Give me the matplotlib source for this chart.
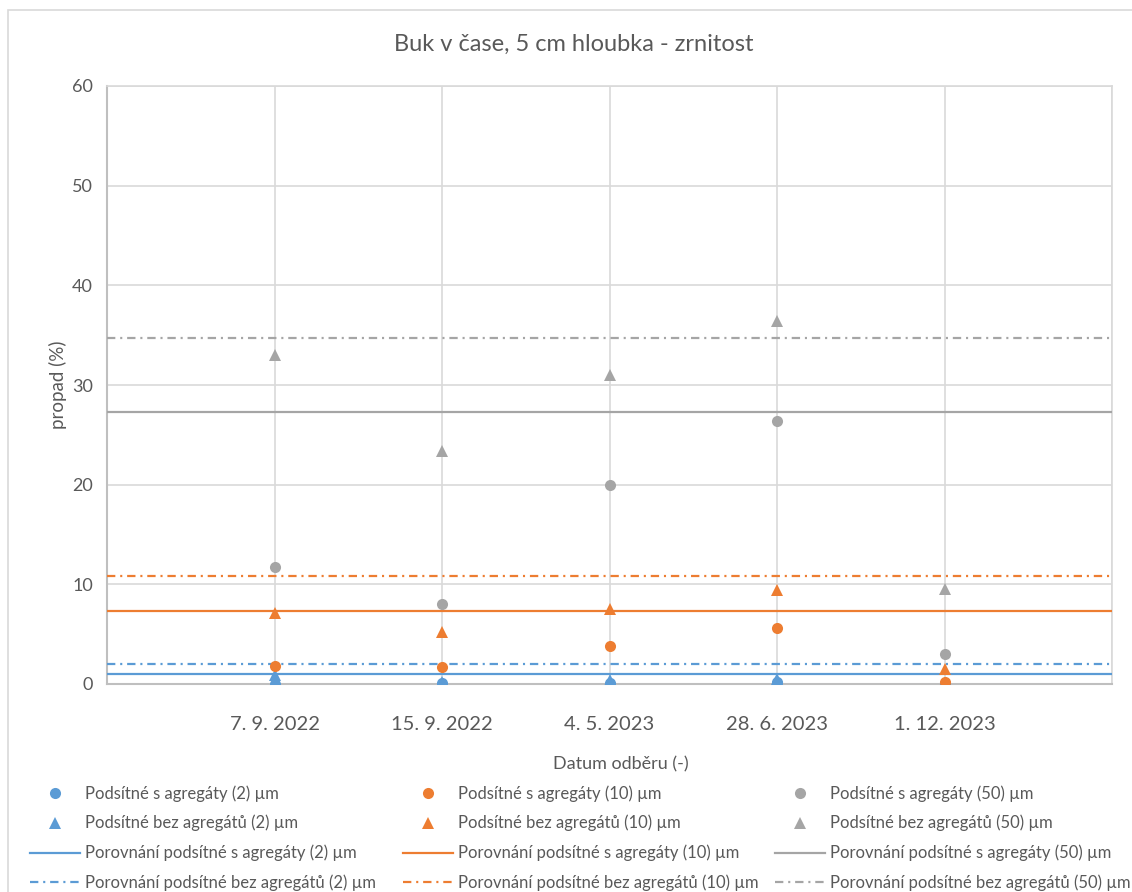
import matplotlib
matplotlib.use("Agg")
import matplotlib.pyplot as plt
from matplotlib.lines import Line2D
from matplotlib.patches import Rectangle

plt.rcParams['font.family'] = ['Lato', 'DejaVu Sans']
plt.rcParams['lines.scale_dashes'] = False

# data
dates = ['7. 9. 2022', '15. 9. 2022', '4. 5. 2023', '28. 6. 2023', '1. 12. 2023']
x_pos = [1, 2, 3, 4, 5]
s_agr_2 = [0.05, 0.1, 0.1, 0.25, 0.05]
bez_agr_2 = [0.9, 0.2, 0.4, 0.5, 0.0]
s_agr_10 = [1.8, 1.7, 3.8, 5.65, 0.2]
bez_agr_10 = [7.15, 5.2, 7.5, 9.4, 1.5]
s_agr_50 = [11.75, 8.0, 20.0, 26.4, 3.0]
bez_agr_50 = [33.0, 23.4, 31.0, 36.4, 9.5]
por_s_agr = [1.03, 7.3, 27.25]      # 2, 10, 50 um
por_bez_agr = [2.0, 10.8, 34.7]

sizes = ['2', '10', '50']
colors = ['#5B9BD5', '#ED7D31', '#A5A5A5']
text_col = '#595959'
grid_col = '#D9D9D9'
dashdot = (0, (6, 3.5, 1.5, 3.5))
ms = 8

fig = plt.figure(figsize=(11.32, 8.92), dpi=100)
fig.patches.append(Rectangle((8 / 1132, -0.1), 1.2, 1 - 10 / 892 + 0.1,
                             transform=fig.transFigure, fill=False,
                             edgecolor=grid_col, linewidth=1.2))

ax = fig.add_axes([107 / 1132, 1 - 684 / 892, (1112 - 107) / 1132, (684 - 86) / 892])

s_series = [s_agr_2, s_agr_10, s_agr_50]
bez_series = [bez_agr_2, bez_agr_10, bez_agr_50]

handles = [[], [], []]
for i in range(3):
    ax.axhline(por_s_agr[i], color=colors[i], lw=1.6, zorder=3)
    ax.axhline(por_bez_agr[i], color=colors[i], lw=1.6, linestyle=dashdot, zorder=3)
for i in range(3):
    ax.plot(x_pos, s_series[i], 'o', color=colors[i], ms=ms, mew=0, zorder=4)
    ax.plot(x_pos, bez_series[i], '^', color=colors[i], ms=ms, mew=0, zorder=4)
    handles[i] = [
        (Line2D([], [], marker='o', ls='none', color=colors[i], ms=ms, mew=0),
         f'Podsítné s agregáty ({sizes[i]}) µm'),
        (Line2D([], [], marker='^', ls='none', color=colors[i], ms=ms, mew=0),
         f'Podsítné bez agregátů ({sizes[i]}) µm'),
        (Line2D([], [], color=colors[i], lw=1.6),
         f'Porovnání podsítné s agregáty ({sizes[i]}) µm'),
        (Line2D([], [], color=colors[i], lw=1.6, ls=dashdot),
         f'Porovnání podsítné bez agregátů ({sizes[i]}) µm'),
    ]

ax.set_xlim(0, 6)
ax.set_ylim(0, 60)
ax.set_yticks(range(0, 61, 10))
ax.set_xticks(range(0, 7))
ax.set_xticklabels([''] + dates + [''])
ax.grid(True, color=grid_col, lw=1.2, zorder=0)
ax.set_axisbelow(True)
for side in ['top', 'right']:
    ax.spines[side].set_color(grid_col)
    ax.spines[side].set_linewidth(1.2)
for side in ['left', 'bottom']:
    ax.spines[side].set_color('#BFBFBF')
    ax.spines[side].set_linewidth(1.5)
ax.tick_params(axis='both', length=0, colors=text_col, labelsize=13)
ax.tick_params(axis='x', pad=23, labelsize=14.5)
ax.tick_params(axis='y', pad=10)

fig.text(574 / 1132, 1 - 44 / 892, 'Buk v čase, 5 cm hloubka - zrnitost',
         ha='center', va='center', fontsize=17, color=text_col)
fig.text(621 / 1132, 1 - 764 / 892, 'Datum odběru (-)',
         ha='center', va='center', fontsize=13, color=text_col)
fig.text(58 / 1132, 1 - 385 / 892, 'propad (%)', rotation=90,
         ha='center', va='center', fontsize=13.5, color=text_col)

col_x = [30, 403, 775]
for i in range(3):
    hs, labels = zip(*handles[i])
    leg = fig.legend(hs, labels, loc='upper left',
                     bbox_to_anchor=(col_x[i] / 1132, 1 - 785 / 892),
                     frameon=False, fontsize=12, handlelength=3.0,
                     handletextpad=0.3, labelspacing=0.8, borderpad=0,
                     borderaxespad=0)
    for t in leg.get_texts():
        t.set_color(text_col)

fig.savefig('out.png', dpi=100)
